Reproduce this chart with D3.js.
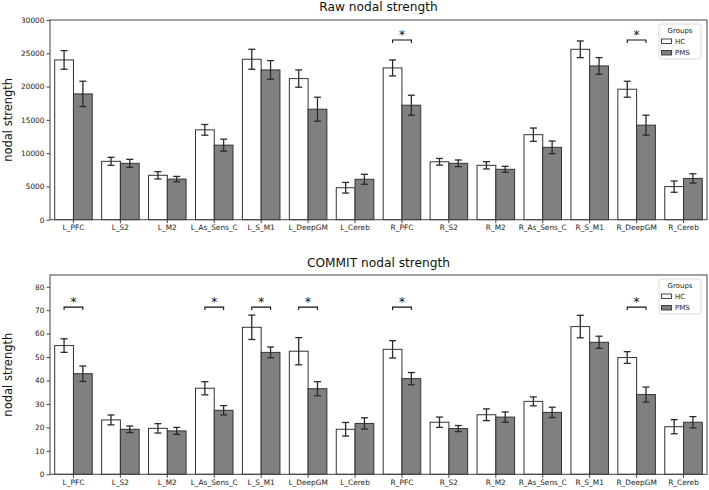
<!DOCTYPE html>
<html>
<head>
<meta charset="utf-8">
<script src="https://cdn.jsdelivr.net/npm/d3@7"></script>
<style>
  html, body { margin: 0; padding: 0; background: #fff; }
  svg { display: block; font-family: "DejaVu Sans", sans-serif; }
</style>
</head>
<body>
<svg id="chart" width="709" height="490"></svg>
<script>
const categories = ["L_PFC","L_S2","L_M2","L_As_Sens_C","L_S_M1","L_DeepGM","L_Cereb",
                    "R_PFC","R_S2","R_M2","R_As_Sens_C","R_S_M1","R_DeepGM","R_Cereb"];
const groups = ["HC","PMS"];

const rawHC     = [24000, 8770, 6670, 13500, 24100, 21200, 4800, 22800, 8700, 8170, 12770, 25600, 19600, 4970];
const rawHCErr  = [1400, 600, 550, 800, 1500, 1300, 800, 1200, 500, 550, 1000, 1250, 1200, 850];
const rawPMS    = [18900, 8470, 6100, 11200, 22500, 16600, 6070, 17200, 8470, 7570, 10870, 23100, 14200, 6200];
const rawPMSErr = [1900, 600, 400, 900, 1400, 1800, 750, 1500, 500, 450, 950, 1250, 1500, 700];
const rawSig    = ["R_PFC","R_DeepGM"];
const rawTicks  = [0, 5000, 10000, 15000, 20000, 25000, 30000];

const comHC     = [54.9, 23.2, 19.6, 36.7, 62.7, 52.5, 19.2, 53.3, 22.2, 25.4, 31.1, 63.0, 49.8, 20.3];
const comHCErr  = [2.9, 2.1, 2.0, 2.8, 5.2, 5.8, 2.9, 3.7, 2.2, 2.5, 1.9, 4.8, 2.5, 3.0];
const comPMS    = [42.9, 19.2, 18.5, 27.3, 52.0, 36.5, 21.7, 40.8, 19.5, 24.4, 26.4, 56.3, 34.0, 22.2];
const comPMSErr = [3.3, 1.4, 1.5, 2.0, 2.3, 3.0, 2.4, 2.6, 1.3, 2.2, 2.2, 2.6, 3.2, 2.4];
const comSig    = ["L_PFC","L_As_Sens_C","L_S_M1","L_DeepGM","R_PFC","R_DeepGM"];
const comTicks  = [0, 10, 20, 30, 40, 50, 60, 70, 80];

const panels = [
  { title: "Raw nodal strength", top: 20, bottom: 219.7, ymax: 30000, ticks: rawTicks,
    hc: rawHC, hcErr: rawHCErr, pms: rawPMS, pmsErr: rawPMSErr, sig: rawSig, sigY: 27000,
    titleY: 11, legendTop: 24 },
  { title: "COMMIT nodal strength", top: 275, bottom: 474.3, ymax: 85, ticks: comTicks,
    hc: comHC, hcErr: comHCErr, pms: comPMS, pmsErr: comPMSErr, sig: comSig, sigY: 71.3,
    titleY: 267, legendTop: 279 }
];

const svg = d3.select("#chart");
const left = 50, right = 707;
const colors = { HC: "#ffffff", PMS: "#808080" };
const edge = "#333333";

const x0 = d3.scaleBand().domain(categories).range([left, right]).paddingInner(0.2).paddingOuter(0.1);
const x1 = d3.scaleBand().domain(groups).range([0, x0.bandwidth()]).padding(0);

panels.forEach(p => {
  const y = d3.scaleLinear().domain([0, p.ymax]).range([p.bottom, p.top]);
  const g = svg.append("g");

  // title
  g.append("text").attr("x", (left + right) / 2).attr("y", p.titleY)
    .attr("text-anchor", "middle").attr("font-size", 12.2).attr("fill", "#111")
    .text(p.title);

  // y label
  g.append("text")
    .attr("transform", `translate(11.5,${(p.top + p.bottom) / 2}) rotate(-90)`)
    .attr("text-anchor", "middle").attr("font-size", 11.5).attr("fill", "#111")
    .text("nodal strength");

  // bars
  const rows = categories.map((c, i) => ({
    cat: c,
    vals: [
      { grp: "HC", v: p.hc[i], e: p.hcErr[i] },
      { grp: "PMS", v: p.pms[i], e: p.pmsErr[i] }
    ]
  }));

  const cg = g.selectAll("g.cat").data(rows).join("g")
    .attr("transform", d => `translate(${x0(d.cat)},0)`);

  cg.selectAll("rect").data(d => d.vals).join("rect")
    .attr("x", d => x1(d.grp)).attr("width", x1.bandwidth())
    .attr("y", d => y(d.v)).attr("height", d => y(0) - y(d.v))
    .attr("fill", d => colors[d.grp]).attr("stroke", edge).attr("stroke-width", 1);

  // error bars
  const eb = cg.selectAll("g.err").data(d => d.vals).join("g")
    .attr("transform", d => `translate(${x1(d.grp) + x1.bandwidth() / 2},0)`);
  eb.append("line").attr("x1", 0).attr("x2", 0)
    .attr("y1", d => y(d.v - d.e)).attr("y2", d => y(d.v + d.e))
    .attr("stroke", "#2a2a2a").attr("stroke-width", 1.3);
  eb.append("line").attr("x1", -3.5).attr("x2", 3.5)
    .attr("y1", d => y(d.v + d.e)).attr("y2", d => y(d.v + d.e))
    .attr("stroke", "#2a2a2a").attr("stroke-width", 1.3);
  eb.append("line").attr("x1", -3.5).attr("x2", 3.5)
    .attr("y1", d => y(d.v - d.e)).attr("y2", d => y(d.v - d.e))
    .attr("stroke", "#2a2a2a").attr("stroke-width", 1.3);

  // significance brackets
  p.sig.forEach(c => {
    const xa = x0(c) + x1("HC") + x1.bandwidth() / 2;
    const xb = x0(c) + x1("PMS") + x1.bandwidth() / 2;
    const yy = y(p.sigY);
    g.append("path")
      .attr("d", `M${xa},${yy + 3}V${yy}H${xb}V${yy + 3}`)
      .attr("fill", "none").attr("stroke", "#111").attr("stroke-width", 1.1);
    g.append("text").attr("x", (xa + xb) / 2).attr("y", yy - 1)
      .attr("text-anchor", "middle").attr("font-size", 12).attr("fill", "#111")
      .text("*");
  });

  // axes
  const ya = d3.axisLeft(y).tickValues(p.ticks).tickFormat(d3.format("d")).tickSize(3.5).tickPadding(2);
  const yg = g.append("g").attr("transform", `translate(${left},0)`).call(ya);
  const xa = d3.axisBottom(x0).tickSize(3.5).tickPadding(2);
  const xg = g.append("g").attr("transform", `translate(0,${p.bottom})`).call(xa);
  [yg, xg].forEach(ax => {
    ax.select(".domain").remove();
    ax.selectAll(".tick line").attr("stroke", "#333").attr("stroke-width", 0.9);
    ax.selectAll(".tick text").attr("font-size", 7.4).attr("fill", "#222")
      .attr("font-family", "DejaVu Sans, sans-serif");
  });

  // frame
  g.append("rect").attr("x", left).attr("y", p.top)
    .attr("width", right - left).attr("height", p.bottom - p.top)
    .attr("fill", "none").attr("stroke", "#444").attr("stroke-width", 1);

  // legend
  const lx = 659, ly = p.legendTop;
  const lg = g.append("g").attr("transform", `translate(${lx},${ly})`);
  lg.append("rect").attr("x", 0).attr("y", 0).attr("width", 42).attr("height", 35)
    .attr("rx", 2).attr("fill", "#fff").attr("fill-opacity", 0.85)
    .attr("stroke", "#d0d0d0").attr("stroke-width", 0.8);
  lg.append("text").attr("x", 21).attr("y", 8.5).attr("text-anchor", "middle")
    .attr("font-size", 7).attr("fill", "#222").text("Groups");
  groups.forEach((gr, i) => {
    const yy = 15 + i * 11.5;
    lg.append("rect").attr("x", 2.5).attr("y", yy).attr("width", 10).attr("height", 4.5)
      .attr("fill", colors[gr]).attr("stroke", edge).attr("stroke-width", 0.9);
    lg.append("text").attr("x", 16).attr("y", yy + 4.5).attr("font-size", 7)
      .attr("fill", "#222").text(gr);
  });
});
</script>
</body>
</html>
